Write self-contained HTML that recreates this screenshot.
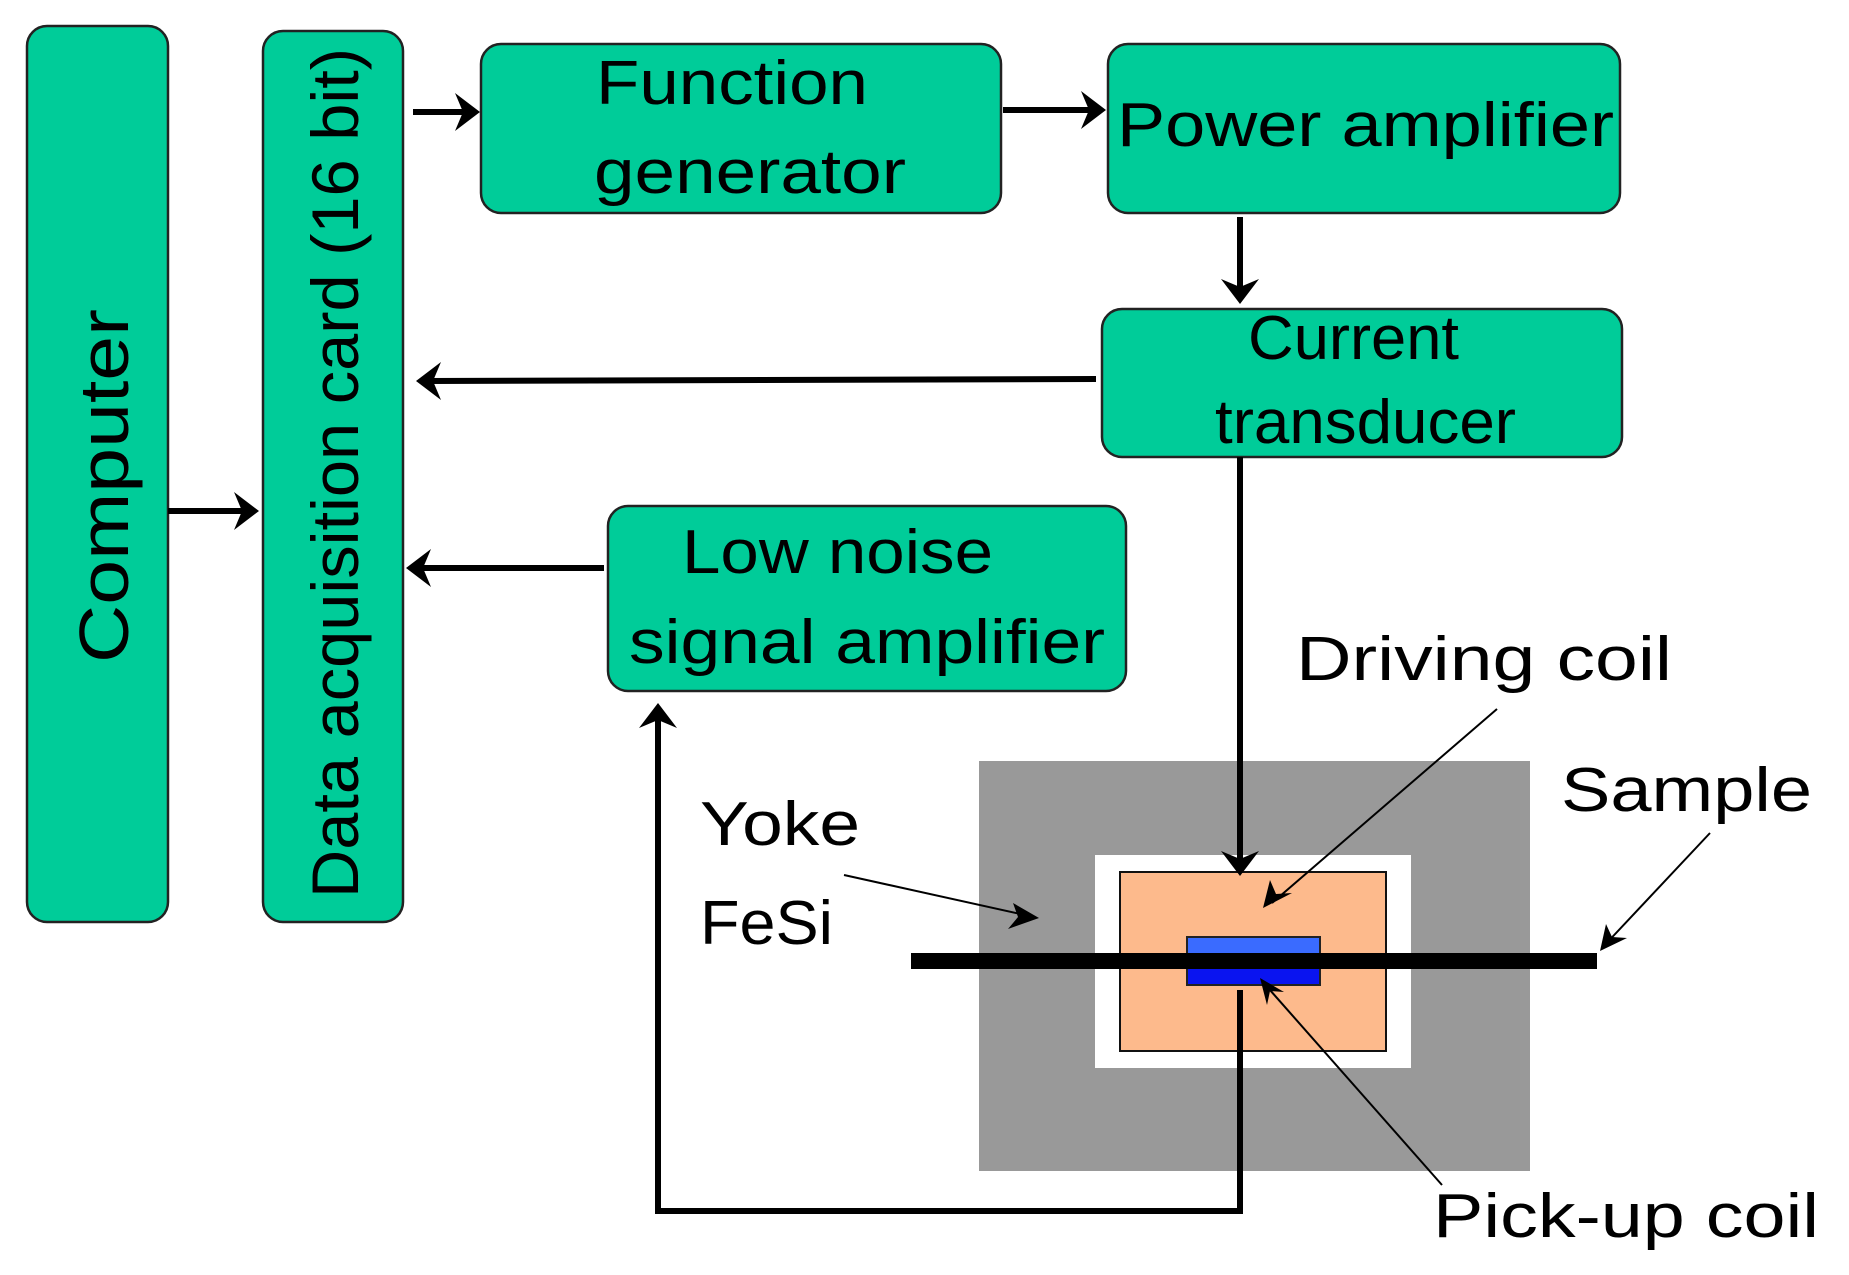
<!DOCTYPE html>
<html><head><meta charset="utf-8"><style>html,body{margin:0;padding:0;background:#fff}svg{display:block}</style></head>
<body>
<svg width="1849" height="1275" viewBox="0 0 1849 1275" xmlns="http://www.w3.org/2000/svg" font-family="Liberation Sans, sans-serif">
<g fill="#00CC99" stroke="#222" stroke-width="2.5">
<rect x="27" y="26" width="141" height="896" rx="20"/>
<rect x="263" y="31" width="140" height="891" rx="20"/>
<rect x="481" y="44" width="520" height="169" rx="20"/>
<rect x="1108" y="44" width="512" height="169" rx="20"/>
<rect x="1102" y="309" width="520" height="148" rx="20"/>
<rect x="608" y="506" width="518" height="185" rx="20"/>
</g>
<!-- yoke -->
<rect x="979" y="761" width="551" height="410" fill="#999"/>
<rect x="1095" y="855" width="316" height="213" fill="#fff"/>
<rect x="1120" y="872" width="266" height="179" fill="#FDBA8C" stroke="#111" stroke-width="2"/>
<rect x="1187" y="937" width="133" height="24" fill="#3A6BFF" stroke="#222" stroke-width="2"/>
<rect x="1187" y="961" width="133" height="24" fill="#0A14F0" stroke="#222" stroke-width="2"/>
<rect x="911" y="953" width="686" height="16" fill="#000"/>
<!-- connectors -->
<g stroke="#000" stroke-width="6" fill="none">
<line x1="413" y1="112" x2="470" y2="112"/>
<line x1="1003" y1="110" x2="1095" y2="110"/>
<line x1="1240" y1="217" x2="1240" y2="292"/>
<line x1="1096" y1="379" x2="428" y2="381"/>
<line x1="604" y1="568" x2="420" y2="568"/>
<line x1="168" y1="511" x2="248" y2="511"/>
<line x1="1240" y1="457" x2="1240" y2="862"/>
<polyline points="1240,990 1240,1211 658,1211 658,715"/>
</g>
<g fill="#000">
<polygon points="480,112 455,93 463,112 455,131"/>
<polygon points="1106,110 1081,91 1089,110 1081,129"/>
<polygon points="1240,304 1221,279 1240,287 1259,279"/>
<polygon points="416,381 441,362 433,381 441,400"/>
<polygon points="406,568 431,549 423,568 431,587"/>
<polygon points="259,511 234,492 242,511 234,530"/>
<polygon points="1240,876 1221,851 1240,859 1259,851"/>
<polygon points="658,703 639,728 658,720 677,728"/>
</g>
<g stroke="#000" stroke-width="2" fill="none">
<line x1="844" y1="875" x2="1034" y2="917"/>
<line x1="1497" y1="709" x2="1272" y2="903"/>
<line x1="1710" y1="833" x2="1602" y2="948"/>
<line x1="1442" y1="1185" x2="1262" y2="981"/>
</g>
<g fill="#000">
<polygon points="1039,918 1013,903 1018,917 1008,929"/>
<polygon points="1263,908 1270,880 1276,894 1292,893"/>
<polygon points="1600,951 1606,924 1612,937 1627,938"/>
<polygon points="1260,978 1284,992 1270,991 1267,1005"/>
</g>
<!-- text -->
<g fill="#000" font-size="62">
<text x="596" y="104" textLength="272" lengthAdjust="spacingAndGlyphs">Function</text>
<text x="594" y="193" textLength="312" lengthAdjust="spacingAndGlyphs">generator</text>
<text x="1117" y="146" textLength="497" lengthAdjust="spacingAndGlyphs">Power amplifier</text>
<text x="1248" y="359" textLength="211" lengthAdjust="spacingAndGlyphs">Current</text>
<text x="1215" y="443" textLength="301" lengthAdjust="spacingAndGlyphs">transducer</text>
<text x="682" y="573" textLength="311" lengthAdjust="spacingAndGlyphs">Low noise</text>
<text x="629" y="663" textLength="476" lengthAdjust="spacingAndGlyphs">signal amplifier</text>
<text x="1296" y="680" textLength="376" lengthAdjust="spacingAndGlyphs">Driving coil</text>
<text x="1561" y="811" textLength="251" lengthAdjust="spacingAndGlyphs">Sample</text>
<text x="700" y="845" textLength="160" lengthAdjust="spacingAndGlyphs">Yoke</text>
<text x="700" y="944" textLength="133" lengthAdjust="spacingAndGlyphs">FeSi</text>
<text x="1433" y="1237" textLength="386" lengthAdjust="spacingAndGlyphs">Pick-up coil</text>
<text transform="translate(128,663) rotate(-90)" font-size="70" textLength="354" lengthAdjust="spacingAndGlyphs">Computer</text>
<text transform="translate(358,898) rotate(-90)" font-size="66" textLength="850" lengthAdjust="spacingAndGlyphs">Data acquisition card (16 bit)</text>
</g>
</svg>
</body></html>
